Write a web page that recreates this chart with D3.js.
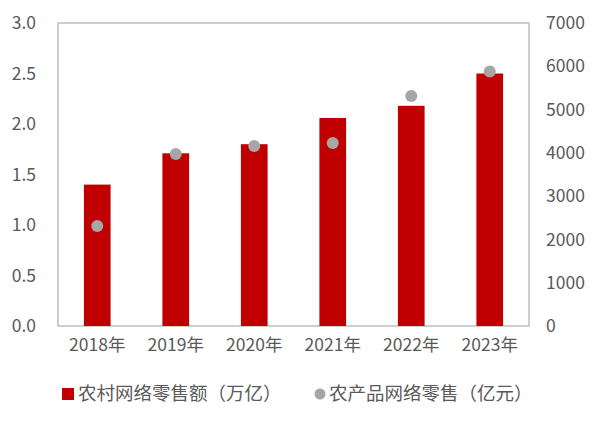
<!DOCTYPE html>
<html>
<head>
<meta charset="utf-8">
<script src="https://cdn.jsdelivr.net/npm/d3@7/dist/d3.min.js"></script>
<style>
html,body{margin:0;padding:0;background:#fff;}
svg text{font-family:"Noto Sans CJK SC","Noto Sans",sans-serif;fill:#595959;}
</style>
</head>
<body>
<svg id="c" width="591" height="424"></svg>
<script>
const categories = ["2018年","2019年","2020年","2021年","2022年","2023年"];
const ruralRetail = [1.40, 1.71, 1.80, 2.06, 2.18, 2.50];
const agriRetail = [2310, 3975, 4160, 4230, 5315, 5880];
const leftTicks = [0, 0.5, 1.0, 1.5, 2.0, 2.5, 3.0];
const rightTicks = [0, 1000, 2000, 3000, 4000, 5000, 6000, 7000];
const seriesNames = ["农村网络零售额（万亿）", "农产品网络零售（亿元）"];

const svg = d3.select("#c");
const L = 58, R = 529, T = 23, B = 326;
const fs = 17.5;

const x = d3.scaleBand().domain(categories).range([L, R]).paddingInner(0.66).paddingOuter(0.33);
const yL = d3.scaleLinear().domain([0, 3]).range([B, T]);
const yR = d3.scaleLinear().domain([0, 7000]).range([B, T]);

// frame
svg.append("rect").attr("x", L).attr("y", T).attr("width", R - L).attr("height", B - T)
  .attr("fill", "none").attr("stroke", "#bfbfbf").attr("stroke-width", 1.5);

// bars
svg.selectAll("rect.bar").data(ruralRetail).enter().append("rect")
  .attr("class", "bar")
  .attr("x", (d, i) => x(categories[i]))
  .attr("width", x.bandwidth())
  .attr("y", d => yL(d))
  .attr("height", d => yL(0) - yL(d))
  .attr("fill", "#c00000");

// points
svg.selectAll("circle.pt").data(agriRetail).enter().append("circle")
  .attr("class", "pt")
  .attr("cx", (d, i) => x(categories[i]) + x.bandwidth() / 2)
  .attr("cy", d => yR(d))
  .attr("r", 6)
  .attr("fill", "#a6a6a6");

// left axis
const axL = d3.axisLeft(yL).tickValues(leftTicks).tickFormat(d3.format(".1f")).tickSize(0).tickPadding(0);
const gL = svg.append("g").attr("transform", `translate(36,0)`).call(axL);
gL.select(".domain").remove();
gL.selectAll("text").attr("font-size", fs).style("fill", "#595959");

// right axis
const axR = d3.axisRight(yR).tickValues(rightTicks).tickFormat(d3.format("d")).tickSize(0).tickPadding(0);
const gR = svg.append("g").attr("transform", `translate(546,0)`).call(axR);
gR.select(".domain").remove();
gR.selectAll("text").attr("font-size", fs).style("fill", "#595959");

// x axis
const axX = d3.axisBottom(x).tickSize(0).tickPadding(0);
const gX = svg.append("g").attr("transform", `translate(0,${B + 13})`).call(axX);
gX.select(".domain").remove();
gX.selectAll("text").attr("font-size", fs).attr("dy", "0.71em").style("fill", "#595959");

// legend
const lg = svg.append("g");
lg.append("rect").attr("x", 62).attr("y", 388).attr("width", 12).attr("height", 12).attr("fill", "#c00000");
lg.append("text").attr("x", 78).attr("y", 394).attr("dy", "0.35em").attr("font-size", 18.5).text(seriesNames[0]);
lg.append("circle").attr("cx", 320).attr("cy", 394).attr("r", 5.5).attr("fill", "#a6a6a6");
lg.append("text").attr("x", 329).attr("y", 394).attr("dy", "0.35em").attr("font-size", 18.5).text(seriesNames[1]);
</script>
</body>
</html>
